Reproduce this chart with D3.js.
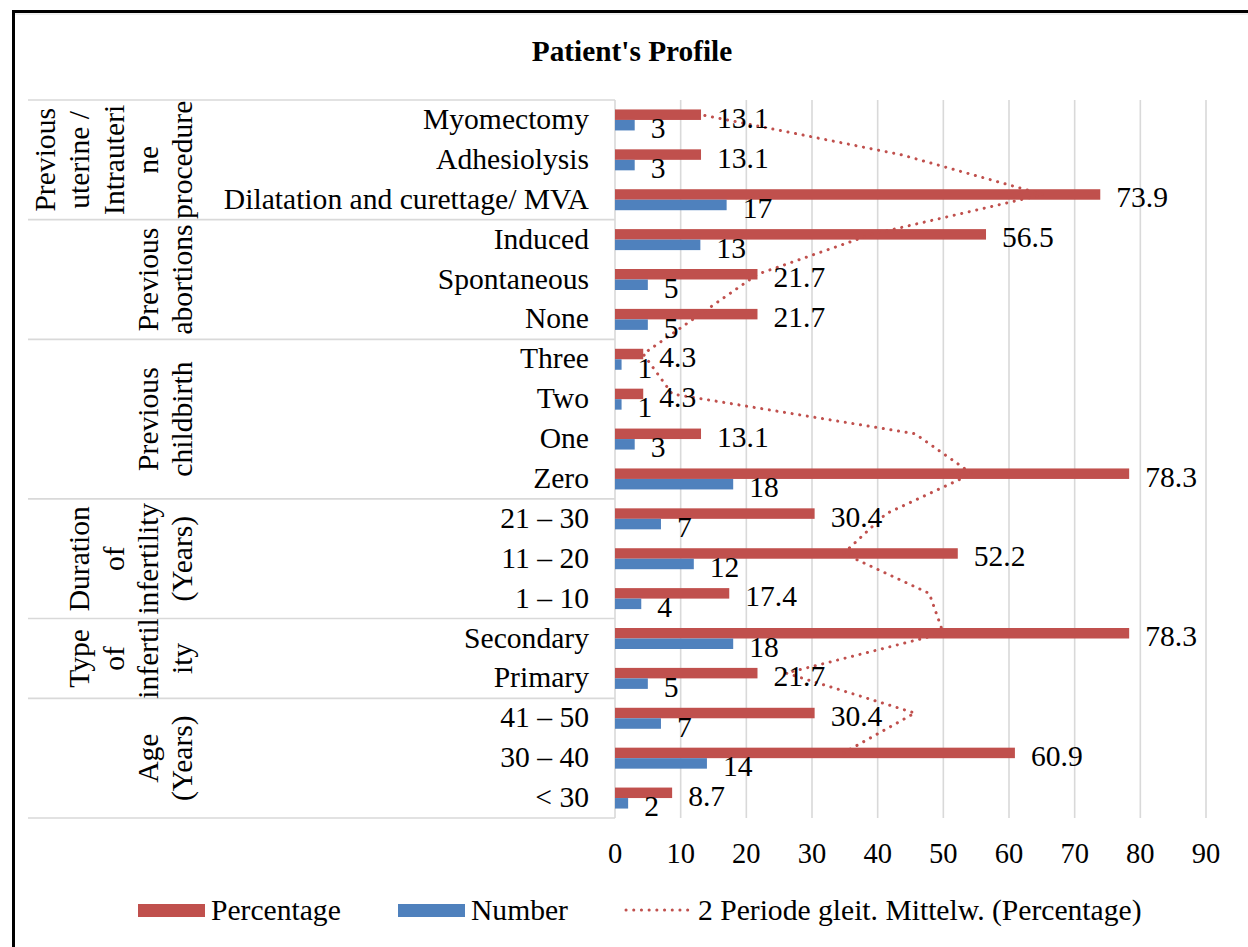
<!DOCTYPE html>
<html>
<head>
<meta charset="utf-8">
<script src="https://cdn.jsdelivr.net/npm/d3@7"></script>
<style>
  body { margin: 0; background: #fff; }
  svg { display: block; }
</style>
</head>
<body>
<svg id="chart" width="1248" height="947" font-family="'Liberation Serif', 'Times New Roman', Tinos, serif"></svg>
<script>
// Categories listed bottom-to-top, the way the spreadsheet holds them
const categories = [
  "< 30", "30 – 40", "41 – 50",
  "Primary", "Secondary",
  "1 – 10", "11 – 20", "21 – 30",
  "Zero", "One", "Two", "Three",
  "None", "Spontaneous", "Induced",
  "Dilatation and curettage/ MVA", "Adhesiolysis", "Myomectomy",
];
const percentage = [8.7, 60.9, 30.4, 21.7, 78.3, 17.4, 52.2, 30.4, 78.3, 13.1, 4.3, 4.3, 21.7, 21.7, 56.5, 73.9, 13.1, 13.1];
const number = [2, 14, 7, 5, 18, 4, 12, 7, 18, 3, 1, 1, 5, 5, 13, 17, 3, 3];

// Outer category level (bottom-to-top), wrapped as in the original
const groupLabels = [
  ["Age", "(Years)"],
  ["Type", "of", "infertil", "ity"],
  ["Duration", "of", "infertility", "(Years)"],
  ["Previous", "childbirth"],
  ["Previous", "abortions"],
  ["Previous", "uterine /", "Intrauteri", "ne", "procedure"],
];
const groupSizes = [3, 2, 3, 4, 3, 3];

const xTicks = [0, 10, 20, 30, 40, 50, 60, 70, 80, 90];
const seriesNames = ["Percentage", "Number"];
const trendName = "2 Periode gleit. Mittelw. (Percentage)";

const colors = { Percentage: "#C0504D", Number: "#4F81BD", grid: "#D9D9D9" };
const fontSize = 29.6;

const svg = d3.select("#chart");
const plot = { left: 615, right: 1206, top: 100, bottom: 818 };

const x = d3.scaleLinear().domain([0, 90]).range([plot.left, plot.right]);
const y = d3.scaleBand().domain(categories).range([plot.bottom, plot.top]);
const ySub = d3.scaleBand().domain(seriesNames).range([0, y.bandwidth()]).paddingInner(0).paddingOuter(0.9);

// Frame
svg.append("path")
  .attr("d", "M13.5,960V11.5H1260")
  .attr("fill", "none").attr("stroke", "#000").attr("stroke-width", 3);
svg.append("line")
  .attr("x1", 15).attr("x2", 1248).attr("y1", 14).attr("y2", 14)
  .attr("stroke", "#E0E0E0").attr("stroke-width", 1);

// Title
svg.append("text")
  .attr("x", 632).attr("y", 61)
  .attr("text-anchor", "middle")
  .attr("font-size", 29.3).attr("font-weight", "bold")
  .text("Patient's Profile");

// Vertical gridlines
svg.append("g").selectAll("line")
  .data(xTicks)
  .join("line")
  .attr("x1", (d) => x(d)).attr("x2", (d) => x(d))
  .attr("y1", plot.top).attr("y2", plot.bottom)
  .attr("stroke", colors.grid).attr("stroke-width", 1.6);

// Category table lines (group boundaries)
const cum = [0, ...d3.cumsum(groupSizes)];
const boundaries = cum.map((c) => (c === 0 ? plot.bottom : y(categories[c - 1])));
svg.append("g").selectAll("line")
  .data(boundaries)
  .join("line")
  .attr("x1", 28).attr("x2", plot.left)
  .attr("y1", (d) => d).attr("y2", (d) => d)
  .attr("stroke", colors.grid).attr("stroke-width", 1.6);

// Inner category labels
svg.append("g").selectAll("text")
  .data(categories)
  .join("text")
  .attr("x", 589)
  .attr("y", (d) => y(d) + y.bandwidth() / 2 + 9)
  .attr("text-anchor", "end")
  .attr("font-size", fontSize)
  .text((d) => d);

// Outer group labels, rotated
groupLabels.forEach((lines, gi) => {
  const top = y(categories[cum[gi + 1] - 1]);
  const bottom = y(categories[cum[gi]]) + y.bandwidth();
  const cy = (top + bottom) / 2;
  const n = lines.length;
  lines.forEach((line, k) => {
    const xb = 192 - (n - 1 - k) * 34.2;
    svg.append("text")
      .attr("transform", `translate(${xb},${cy}) rotate(-90)`)
      .attr("text-anchor", "middle")
      .attr("font-size", fontSize)
      .text(line);
  });
});

// Bars
const rows = categories.map((c, i) => ({ cat: c, Percentage: percentage[i], Number: number[i] }));
seriesNames.forEach((s) => {
  svg.append("g").selectAll("rect")
    .data(rows)
    .join("rect")
    .attr("x", x(0))
    .attr("y", (d) => y(d.cat) + ySub(s))
    .attr("width", (d) => x(d[s]) - x(0))
    .attr("height", ySub.bandwidth())
    .attr("fill", colors[s]);
});

// 2-period moving average trendline of Percentage, at the percentage bar centres
const trend = d3.pairs(rows).map(([a, b]) => ({ cat: b.cat, v: (a.Percentage + b.Percentage) / 2 }));
svg.append("path")
  .datum(trend)
  .attr("d", d3.line()
    .x((d) => x(d.v))
    .y((d) => y(d.cat) + ySub("Percentage") + ySub.bandwidth() / 2))
  .attr("fill", "none")
  .attr("stroke", colors.Percentage)
  .attr("stroke-width", 3)
  .attr("stroke-linecap", "round")
  .attr("stroke-dasharray", "0.1 7.6");

// Data labels
seriesNames.forEach((s) => {
  svg.append("g").selectAll("text")
    .data(rows)
    .join("text")
    .attr("x", (d) => x(d[s]) + 16)
    .attr("y", (d) => y(d.cat) + ySub(s) + ySub.bandwidth() / 2 + 13)
    .attr("font-size", fontSize)
    .text((d) => d[s]);
});

// X axis tick labels
svg.append("g").selectAll("text")
  .data(xTicks)
  .join("text")
  .attr("x", (d) => x(d))
  .attr("y", 863)
  .attr("text-anchor", "middle")
  .attr("font-size", 28.5)
  .text((d) => d);

// Legend
const legend = svg.append("g");
const legendItems = [
  { name: "Percentage", x: 138, type: "bar" },
  { name: "Number", x: 398, type: "bar" },
  { name: trendName, x: 625, type: "line" },
];
legendItems.forEach((it) => {
  if (it.type === "bar") {
    legend.append("rect")
      .attr("x", it.x).attr("y", 904).attr("width", 67).attr("height", 13)
      .attr("fill", colors[it.name]);
  } else {
    legend.append("line")
      .attr("x1", it.x + 1).attr("x2", it.x + 66).attr("y1", 910).attr("y2", 910)
      .attr("stroke", colors.Percentage).attr("stroke-width", 3)
      .attr("stroke-linecap", "round").attr("stroke-dasharray", "0.1 7.6");
  }
  legend.append("text")
    .attr("x", it.x + 73).attr("y", 920)
    .attr("font-size", fontSize)
    .text(it.name);
});
</script>
</body>
</html>
